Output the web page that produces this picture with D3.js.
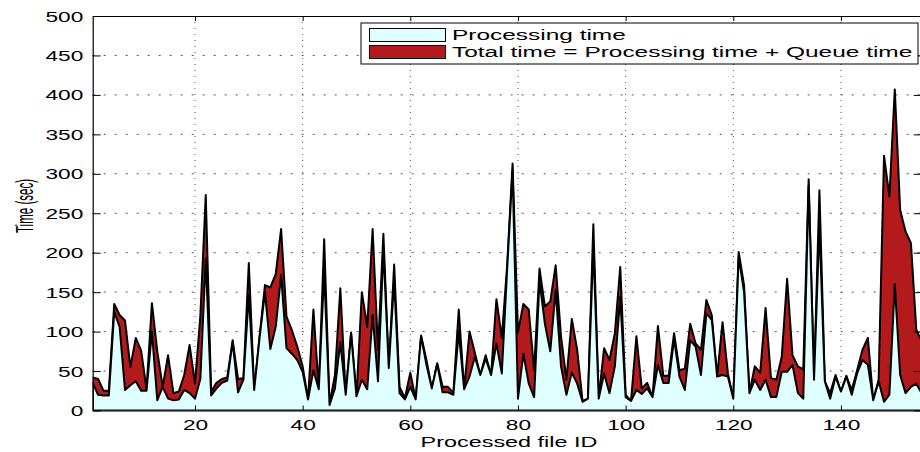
<!DOCTYPE html>
<html>
<head>
<meta charset="utf-8">
<title>Processing time vs total time</title>
<script src="https://d3js.org/d3.v7.min.js"></script>
<style>
  body { margin: 0; background: #fff; }
  svg { display: block; font-family: "Liberation Sans", Arial, Helvetica, sans-serif; }
</style>
</head>
<body>
<div id="chart"></div>
<script>

  // total time = processing + queue (upper red edge), one value per processed file
  var totalTime = [
    42, 40, 25, 25, 135, 121, 114, 55, 92, 76,
    27, 136, 75, 30, 70, 22, 24, 45, 83, 34,
    120, 273, 24, 35, 40, 42, 89, 40, 41, 187,
    26, 94, 159, 156, 173, 230, 119, 102, 81, 56,
    14, 128, 27, 217, 8, 45, 155, 20, 99, 18,
    150, 106, 230, 77, 224, 54, 185, 30, 16, 48,
    14, 95, 64, 28, 60, 30, 30, 22, 128, 27,
    100, 73, 45, 70, 45, 141, 92, 185, 313, 99,
    135, 128, 51, 180, 132, 138, 184, 94, 39, 116,
    77, 12, 15, 236, 15, 79, 64, 98, 182, 20,
    12, 94, 28, 35, 17, 107, 44, 44, 98, 51,
    53, 110, 85, 77, 140, 121, 43, 112, 47, 15,
    201, 159, 22, 56, 48, 130, 41, 39, 68, 167,
    70, 56, 52, 293, 39, 279, 37, 22, 45, 24,
    44, 26, 51, 77, 92, 13, 39, 323, 271, 407,
    254, 227, 212, 102, 88
  ];

  // processing time only (light cyan area)
  var processingTime = [
    35, 20, 19, 19, 125, 106, 26, 32, 37, 25,
    25, 100, 13, 30, 15, 13, 14, 26, 22, 15,
    40, 193, 19, 28, 35, 38, 87, 23, 39, 147,
    26, 92, 150, 78, 106, 172, 79, 72, 64, 49,
    14, 51, 27, 176, 7, 28, 87, 20, 97, 18,
    39, 27, 121, 37, 205, 54, 165, 22, 14, 30,
    14, 94, 58, 28, 59, 23, 23, 20, 100, 27,
    43, 68, 45, 66, 45, 85, 47, 180, 305, 15,
    72, 34, 17, 165, 110, 75, 153, 56, 20, 48,
    34, 11, 15, 208, 15, 47, 22, 56, 144, 17,
    12, 26, 21, 28, 17, 58, 35, 35, 91, 43,
    26, 89, 81, 45, 123, 115, 43, 45, 43, 15,
    195, 150, 22, 39, 26, 39, 17, 17, 49, 49,
    58, 22, 15, 285, 39, 235, 37, 15, 43, 24,
    43, 20, 47, 64, 58, 13, 37, 11, 20, 160,
    45, 22, 30, 34, 22
  ];

  var xTicks = [20, 40, 60, 80, 100, 120, 140];
  var yTicks = [0, 50, 100, 150, 200, 250, 300, 350, 400, 450, 500];
  var legendLabels = ['Processing time', 'Total time = Processing time + Queue time'];

  var width = 920, height = 452;
  var plotL = 92.7, plotR = 921.7, plotT = 16, plotB = 410.5;
  var sx = 1.62; // the original figure is stretched horizontally

  var data = totalTime.map(function(d, i) {
    return { id: i + 1, total: d, proc: processingTime[i] };
  });

  var x = d3.scaleLinear().domain([1, 155]).range([plotL, plotR]);
  var y = d3.scaleLinear().domain([0, 500]).range([plotB, plotT]);

  var svg = d3.select('#chart').append('svg')
      .attr('width', width)
      .attr('height', height);

  svg.append('defs').append('clipPath').attr('id', 'plot')
    .append('rect')
      .attr('x', plotL).attr('y', plotT)
      .attr('width', plotR - plotL).attr('height', plotB - plotT);

  // dotted grid
  svg.append('g').selectAll('line')
    .data(yTicks.slice(1, -1))
    .enter().append('line')
      .attr('x1', plotL).attr('x2', plotR)
      .attr('y1', function(d) { return y(d); })
      .attr('y2', function(d) { return y(d); })
      .attr('stroke', '#555').attr('stroke-width', 1)
      .attr('stroke-dasharray', '2,9');

  svg.append('g').selectAll('line')
    .data(xTicks)
    .enter().append('line')
      .attr('x1', function(d) { return x(d); })
      .attr('x2', function(d) { return x(d); })
      .attr('y1', plotT).attr('y2', plotB)
      .attr('stroke', '#555').attr('stroke-width', 1)
      .attr('stroke-dasharray', '1,5');

  var areaTotal = d3.area()
      .x(function(d) { return x(d.id); })
      .y0(y(0))
      .y1(function(d) { return y(d.total); });

  var areaProc = d3.area()
      .x(function(d) { return x(d.id); })
      .y0(y(0))
      .y1(function(d) { return y(d.proc); });

  var plot = svg.append('g').attr('clip-path', 'url(#plot)');

  plot.append('path')
      .datum(data)
      .attr('d', areaTotal)
      .attr('fill', '#b21a1c')
      .attr('stroke', '#000')
      .attr('stroke-width', 2)
      .attr('stroke-linejoin', 'round');

  plot.append('path')
      .datum(data)
      .attr('d', areaProc)
      .attr('fill', '#e0ffff')
      .attr('stroke', '#000')
      .attr('stroke-width', 2)
      .attr('stroke-linejoin', 'round');

  // axes, ticks pointing inward like the original
  var xAxis = svg.append('g')
      .attr('transform', 'translate(0,' + plotB + ')')
      .call(d3.axisBottom(x).tickValues(xTicks).tickSizeInner(-5).tickSizeOuter(0).tickPadding(9.5));

  xAxis.selectAll('text')
      .attr('font-size', 14)
      .attr('font-family', '"Liberation Sans", Arial, sans-serif')
      .attr('fill', '#000')
      .attr('transform', 'scale(' + sx + ',1)');

  svg.append('g')
      .attr('transform', 'translate(0,' + plotT + ')')
      .call(d3.axisTop(x).tickValues(xTicks).tickSizeInner(-5).tickSizeOuter(0).tickFormat(''));

  var yAxis = svg.append('g')
      .attr('transform', 'translate(' + plotL + ',0)')
      .call(d3.axisLeft(y).tickValues(yTicks).tickSizeInner(-8).tickSizeOuter(0));

  yAxis.selectAll('text')
      .attr('font-size', 14)
      .attr('font-family', '"Liberation Sans", Arial, sans-serif')
      .attr('fill', '#000')
      .attr('x', -9.4 / sx)
      .attr('dy', '0.36em')
      .attr('transform', 'scale(' + sx + ',1)');

  svg.append('g')
      .attr('transform', 'translate(' + plotR + ',0)')
      .call(d3.axisRight(y).tickValues(yTicks).tickSizeInner(-8).tickSizeOuter(0).tickFormat(''));

  svg.selectAll('.domain').attr('stroke', '#000').attr('stroke-width', 1.2);
  svg.selectAll('.tick line').attr('stroke', '#000').attr('stroke-width', 1);

  // axis titles
  svg.append('text')
      .attr('transform', 'translate(509,446.5) scale(1.56,1)')
      .attr('text-anchor', 'middle')
      .attr('font-size', 15)
      .text('Processed file ID');

  svg.append('text')
      .attr('transform', 'translate(33,206) scale(1.55,1) rotate(-90)')
      .attr('text-anchor', 'middle')
      .attr('font-size', 15)
      .attr('textLength', 54)
      .attr('lengthAdjust', 'spacingAndGlyphs')
      .text('Time (sec)');

  // legend
  var legend = svg.append('g').attr('transform', 'translate(361,23)');

  legend.append('rect')
      .attr('width', 557).attr('height', 41)
      .attr('fill', '#fff')
      .attr('stroke', '#000').attr('stroke-width', 1);

  var legendColors = ['#e0ffff', '#b21a1c'];

  legend.selectAll('rect.sw')
    .data(legendLabels)
    .enter().append('rect')
      .attr('class', 'sw')
      .attr('x', 8.5)
      .attr('y', function(d, i) { return 5.5 + i * 17; })
      .attr('width', 76).attr('height', 13)
      .attr('fill', function(d, i) { return legendColors[i]; })
      .attr('stroke', '#000').attr('stroke-width', 1);

  legend.selectAll('text.lab')
    .data(legendLabels)
    .enter().append('text')
      .attr('class', 'lab')
      .attr('transform', function(d, i) { return 'translate(91,' + (17 + i * 17) + ') scale(1.63,1)'; })
      .attr('font-size', 15)
      .text(function(d) { return d; });

</script>
</body>
</html>
